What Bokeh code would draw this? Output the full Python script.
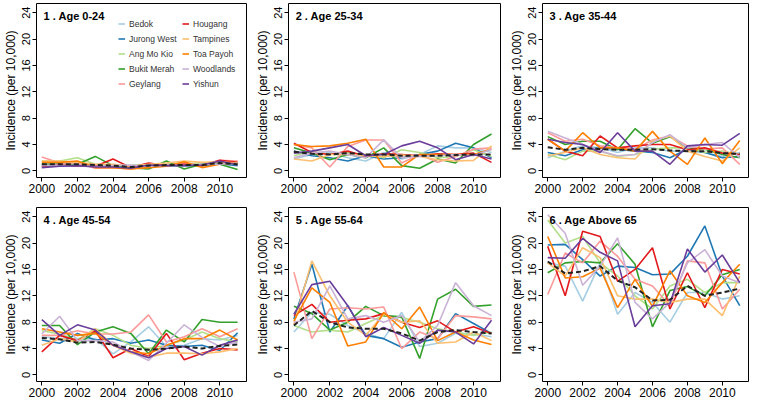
from bokeh.plotting import figure
from bokeh.layouts import column, row
from bokeh.models import Range1d, FixedTicker, Label, Legend, LegendItem
from bokeh.embed import file_html
from bokeh.resources import INLINE

years = list(range(2000, 2012))
x_ticks = [2000, 2002, 2004, 2006, 2008, 2010]
y_ticks = [0, 4, 8, 12, 16, 20, 24]
regions = ["Bedok", "Jurong West", "Ang Mo Kio", "Bukit Merah", "Geylang",
           "Hougang", "Tampines", "Toa Payoh", "Woodlands", "Yishun"]
colors = ["#a6cee3", "#1f78b4", "#b2df8a", "#33a02c", "#fb9a99",
          "#e31a1c", "#fdbf6f", "#ff7f00", "#cab2d6", "#6a3d9a"]
panel_titles = ["1 . Age 0-24", "2 . Age 25-34", "3 . Age 35-44",
                "4 . Age 45-54", "5 . Age 55-64", "6 . Age Above 65"]
y_label = "Incidence (per 10,000)"

age_0_24 = {
    "Bedok":       [1.0, 1.1, 0.9, 1.0, 0.9, 0.8, 1.0, 1.0, 1.0, 1.2, 1.3, 1.1],
    "Jurong West": [0.8, 0.8, 0.8, 0.8, 0.7, 0.6, 0.7, 0.8, 0.8, 0.8, 1.1, 0.8],
    "Ang Mo Kio":  [1.5, 1.5, 2.0, 1.0, 0.8, 0.8, 1.0, 1.0, 1.2, 1.0, 1.2, 1.0],
    "Bukit Merah": [1.0, 1.0, 1.0, 2.2, 0.8, 0.5, 0.3, 1.5, 0.3, 1.0, 1.0, 0.2],
    "Geylang":     [2.1, 1.2, 1.2, 0.4, 0.5, 0.3, 0.8, 0.8, 1.2, 0.8, 1.6, 1.5],
    "Hougang":     [0.6, 1.0, 0.7, 0.7, 1.8, 0.5, 1.2, 0.8, 1.0, 0.8, 1.6, 1.3],
    "Tampines":    [1.5, 1.5, 1.3, 1.0, 1.0, 0.7, 1.0, 1.2, 1.5, 1.3, 1.4, 1.2],
    "Toa Payoh":   [1.3, 1.3, 1.5, 0.5, 0.5, 0.3, 0.5, 0.7, 1.4, 0.5, 1.0, 1.3],
    "Woodlands":   [0.8, 0.9, 0.8, 0.7, 0.8, 0.9, 0.7, 0.9, 0.8, 1.0, 1.0, 1.2],
    "Yishun":      [0.5, 0.7, 0.8, 0.6, 0.6, 0.4, 0.9, 0.8, 0.8, 0.9, 1.5, 0.9],
}
mean_0_24 = [1.0, 1.0, 1.0, 0.9, 0.8, 0.6, 0.8, 0.9, 0.9, 0.9, 1.2, 1.0]

age_25_34 = {
    "Bedok":       [1.8, 2.5, 2.8, 2.0, 1.5, 2.8, 1.8, 2.5, 3.8, 3.5, 3.5, 2.8],
    "Jurong West": [3.0, 2.3, 2.0, 1.5, 2.3, 1.8, 2.0, 2.5, 3.0, 4.2, 3.5, 2.0],
    "Ang Mo Kio":  [2.3, 3.0, 2.5, 2.8, 2.5, 2.0, 3.2, 2.8, 2.0, 2.2, 3.2, 2.2],
    "Bukit Merah": [3.5, 2.7, 1.7, 2.5, 2.0, 3.5, 0.8, 0.4, 1.8, 1.2, 4.0, 5.6],
    "Geylang":     [4.0, 3.5, 0.6, 3.7, 4.7, 4.7, 1.2, 2.5, 1.3, 2.2, 3.3, 3.5],
    "Hougang":     [4.2, 2.8, 2.5, 3.0, 2.2, 2.6, 2.5, 2.3, 2.6, 2.5, 2.7, 1.3],
    "Tampines":    [1.8, 1.5, 2.5, 2.5, 2.3, 2.2, 2.4, 2.2, 1.7, 1.5, 1.6, 3.8],
    "Toa Payoh":   [4.0, 3.7, 3.8, 4.2, 4.8, 0.6, 0.6, 2.5, 2.5, 2.5, 2.5, 3.3],
    "Woodlands":   [2.0, 2.7, 3.0, 2.5, 2.0, 4.7, 2.0, 2.2, 2.3, 2.5, 2.3, 3.3],
    "Yishun":      [2.7, 3.0, 3.5, 4.0, 2.3, 2.5, 3.8, 4.5, 3.5, 1.7, 2.5, 1.8],
}
mean_25_34 = [2.9, 2.6, 2.5, 2.7, 2.5, 2.5, 2.3, 2.3, 2.3, 2.4, 2.5, 2.5]

age_35_44 = {
    "Bedok":       [2.0, 3.0, 3.8, 3.5, 2.8, 3.5, 3.5, 3.0, 3.0, 2.8, 2.2, 2.8],
    "Jurong West": [2.8, 2.3, 3.2, 3.5, 3.3, 3.0, 2.8, 2.0, 3.3, 2.8, 2.0, 2.2],
    "Ang Mo Kio":  [2.5, 1.7, 3.0, 3.0, 2.2, 2.5, 3.3, 3.5, 3.5, 2.8, 3.0, 2.5],
    "Bukit Merah": [5.2, 4.0, 4.5, 4.5, 3.2, 6.4, 4.2, 5.2, 3.5, 3.3, 2.5, 2.0],
    "Geylang":     [5.8, 4.5, 4.8, 3.8, 3.5, 3.3, 4.7, 5.3, 3.8, 3.3, 3.5, 1.0],
    "Hougang":     [4.8, 3.0, 2.3, 5.3, 3.5, 3.8, 4.0, 4.0, 3.2, 3.5, 2.7, 2.5],
    "Tampines":    [2.3, 2.8, 3.5, 2.5, 2.0, 1.8, 4.5, 5.3, 3.0, 2.2, 1.5, 3.5],
    "Toa Payoh":   [4.8, 3.0, 5.8, 3.5, 3.5, 3.0, 6.0, 3.0, 1.0, 5.0, 1.1, 4.6],
    "Woodlands":   [6.0, 5.0, 4.0, 3.0, 2.3, 2.5, 4.3, 5.5, 3.5, 4.0, 4.3, 2.0],
    "Yishun":      [4.8, 4.3, 4.0, 2.8, 5.8, 3.0, 3.0, 1.0, 3.8, 4.0, 3.9, 5.7],
}
mean_35_44 = [3.6, 3.2, 3.5, 3.3, 3.2, 3.2, 3.3, 3.1, 3.0, 3.0, 2.7, 2.6]

age_45_54 = {
    "Bedok":       [5.8, 5.5, 5.5, 5.5, 3.2, 5.0, 7.3, 4.3, 4.5, 5.5, 5.3, 6.0],
    "Jurong West": [5.3, 4.8, 6.3, 5.3, 5.5, 4.8, 5.3, 4.5, 4.3, 4.5, 3.7, 6.4],
    "Ang Mo Kio":  [6.7, 6.2, 5.3, 7.0, 6.0, 4.5, 4.0, 4.5, 5.3, 6.5, 5.5, 5.0],
    "Bukit Merah": [7.5, 7.5, 4.6, 6.5, 7.3, 6.3, 3.2, 6.8, 5.0, 8.4, 8.0, 8.0],
    "Geylang":     [6.0, 6.0, 6.7, 6.2, 6.2, 6.5, 9.1, 5.0, 5.8, 7.0, 5.8, 7.0],
    "Hougang":     [3.5, 6.0, 5.2, 6.7, 2.6, 4.0, 2.8, 6.3, 2.3, 3.3, 4.0, 3.8],
    "Tampines":    [4.5, 5.5, 5.0, 7.0, 4.5, 3.3, 2.7, 3.3, 3.3, 3.2, 3.5, 4.0],
    "Toa Payoh":   [7.0, 6.5, 6.0, 6.3, 4.5, 3.5, 3.2, 4.5, 5.5, 5.5, 6.8, 5.3],
    "Woodlands":   [6.2, 8.9, 5.2, 5.2, 5.0, 3.5, 2.2, 4.8, 7.6, 5.7, 4.3, 5.0],
    "Yishun":      [8.4, 6.0, 7.6, 6.8, 4.5, 3.5, 2.6, 4.0, 4.3, 3.0, 4.5, 5.3],
}
mean_45_54 = [5.6, 5.4, 4.9, 5.0, 4.6, 4.0, 3.8, 4.0, 4.3, 4.0, 4.4, 4.6]

age_55_64 = {
    "Bedok":       [6.5, 9.5, 9.2, 7.5, 6.3, 5.5, 9.5, 4.3, 4.8, 6.3, 6.2, 5.8],
    "Jurong West": [8.5, 16.8, 6.5, 10.5, 6.0, 5.5, 4.2, 5.0, 5.5, 9.3, 7.8, 6.3],
    "Ang Mo Kio":  [7.5, 6.5, 6.8, 6.5, 7.8, 9.0, 8.7, 8.0, 7.0, 6.5, 6.0, 6.5],
    "Bukit Merah": [10.4, 9.3, 6.8, 8.0, 10.4, 9.0, 8.8, 2.5, 11.5, 13.0, 10.4, 10.6],
    "Geylang":     [15.6, 5.5, 10.0, 10.2, 10.0, 10.3, 4.0, 6.5, 5.5, 9.0, 8.8, 8.5],
    "Hougang":     [9.0, 10.7, 8.0, 8.3, 8.5, 9.3, 8.0, 7.2, 8.2, 6.5, 7.3, 6.3],
    "Tampines":    [7.7, 17.3, 12.0, 8.0, 6.0, 9.2, 8.0, 8.2, 4.8, 5.0, 6.5, 5.2],
    "Toa Payoh":   [8.2, 13.2, 11.0, 4.4, 5.0, 9.5, 7.0, 10.3, 5.2, 6.5, 5.3, 4.6],
    "Woodlands":   [8.0, 8.5, 13.5, 8.5, 9.0, 8.0, 9.0, 5.0, 7.5, 14.0, 10.5, 9.0],
    "Yishun":      [9.2, 13.7, 14.2, 10.5, 5.8, 7.2, 6.0, 4.8, 6.8, 6.5, 4.7, 8.3],
}
mean_55_64 = [7.5, 9.7, 8.0, 7.2, 7.0, 7.0, 6.3, 5.2, 6.5, 6.8, 6.5, 6.3]

age_65_plus = {
    "Bedok":       [17.0, 16.5, 11.2, 17.0, 9.2, 12.5, 11.0, 8.0, 12.5, 12.5, 11.5, 12.0],
    "Jurong West": [19.7, 19.8, 17.5, 15.0, 16.5, 16.3, 15.2, 15.3, 18.0, 22.6, 15.0, 10.5],
    "Ang Mo Kio":  [23.5, 20.0, 21.0, 17.0, 15.0, 12.0, 10.0, 13.5, 14.5, 12.5, 14.0, 14.0],
    "Bukit Merah": [15.5, 17.0, 17.2, 17.0, 19.9, 16.8, 7.3, 12.8, 13.4, 12.0, 15.2, 16.0],
    "Geylang":     [12.2, 18.5, 17.0, 20.3, 18.0, 14.5, 13.5, 10.5, 17.3, 17.0, 10.0, 13.0],
    "Hougang":     [19.5, 12.0, 21.8, 21.0, 14.2, 16.0, 19.3, 10.0, 15.5, 10.2, 16.0, 15.3],
    "Tampines":    [17.0, 15.0, 19.3, 17.8, 12.0, 11.5, 11.5, 11.0, 11.5, 11.5, 9.0, 15.0],
    "Toa Payoh":   [21.0, 14.7, 14.9, 16.2, 10.2, 14.5, 10.4, 15.8, 12.0, 11.0, 14.0, 16.8],
    "Woodlands":   [24.3, 21.5, 13.6, 16.5, 20.8, 11.0, 8.5, 11.0, 17.0, 19.0, 15.0, 14.0],
    "Yishun":      [17.8, 17.7, 20.7, 18.6, 17.3, 7.3, 10.5, 10.8, 19.1, 15.6, 18.2, 14.0],
}
mean_65_plus = [17.2, 15.4, 15.7, 16.5, 14.3, 13.3, 11.3, 11.4, 13.5, 12.0, 12.5, 13.1]

panels = [(age_0_24, mean_0_24), (age_25_34, mean_25_34), (age_35_44, mean_35_44),
          (age_45_54, mean_45_54), (age_55_64, mean_55_64), (age_65_plus, mean_65_plus)]

FONT = "Liberation Sans"
widths = [252, 254, 248]
heights = [201, 202]
tops = [3, 6]
bottoms = [24, 22]

figs = []
for i, (series, mean_vals) in enumerate(panels):
    r, c = divmod(i, 3)
    p = figure(width=widths[c], height=heights[r], output_backend="svg",
               toolbar_location=None, tools="",
               x_range=Range1d(1999.7, 2011.5), y_range=Range1d(-1.0, 25.4),
               min_border_left=36, min_border_right=6,
               min_border_top=tops[r], min_border_bottom=bottoms[r])
    p.background_fill_color = "white"
    p.border_fill_color = "white"
    p.outline_line_color = "black"
    p.outline_line_width = 1
    p.xgrid.visible = False
    p.ygrid.visible = False

    renderers = {}
    for name, col in zip(regions, colors):
        renderers[name] = p.line(years, series[name], line_color=col, line_width=1.6)
    p.line(years, mean_vals, line_color="#222222", line_width=2, line_dash="5 3")

    for ax in (p.xaxis[0], p.yaxis[0]):
        ax.axis_line_color = "black"
        ax.major_tick_line_color = "black"
        ax.minor_tick_line_color = None
        ax.major_tick_in = 0
        ax.major_tick_out = 4
        ax.major_label_standoff = 2
        ax.major_label_text_font = FONT
        ax.major_label_text_color = "black"
    p.xaxis.ticker = FixedTicker(ticks=x_ticks)
    p.xaxis.bounds = (2000, 2010)
    p.xaxis.major_label_text_font_size = "12px"
    p.yaxis.ticker = FixedTicker(ticks=y_ticks)
    p.yaxis.bounds = (0, 24)
    p.yaxis.major_label_orientation = "vertical"
    p.yaxis.major_label_text_font_size = "11px"
    p.yaxis.axis_label = y_label
    p.yaxis.axis_label_text_font = FONT
    p.yaxis.axis_label_text_font_size = "12px"
    p.yaxis.axis_label_text_font_style = "normal"
    p.yaxis.axis_label_text_color = "black"
    p.yaxis.axis_label_standoff = 2

    p.add_layout(Label(x=2000.1, y=23.5, text=panel_titles[i], text_font=FONT,
                       text_font_size="11px", text_font_style="bold",
                       text_color="black", text_baseline="middle", text_align="left"))

    if i == 0:
        for k, loc in ((0, (82, 86)), (5, (146, 86))):
            items = [LegendItem(label=regions[j], renderers=[renderers[regions[j]]])
                     for j in range(k, k + 5)]
            lg = Legend(items=items, location=loc, border_line_color=None,
                        background_fill_alpha=0, padding=0, margin=0, spacing=0,
                        glyph_width=7, glyph_height=15, label_height=15,
                        label_standoff=4, label_text_font=FONT,
                        label_text_font_size="8.5px", label_text_color="#333333")
            p.add_layout(lg)
    figs.append(p)

layout = column(row(*figs[:3]), row(*figs[3:]))
open("out.html", "w").write(file_html(layout, INLINE))
